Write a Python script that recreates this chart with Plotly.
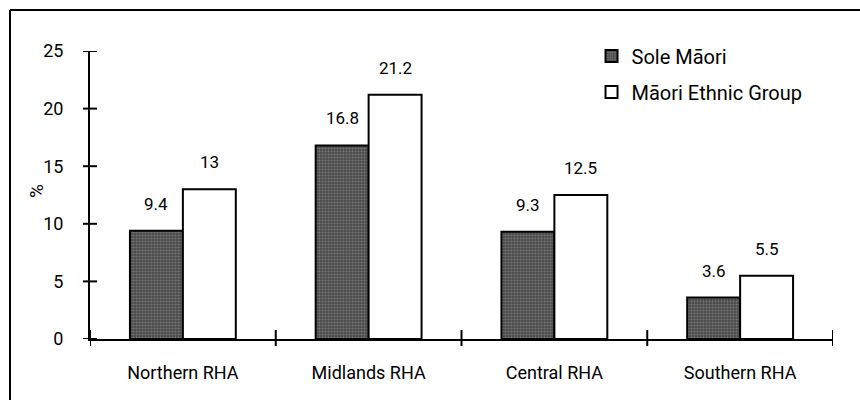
import plotly.graph_objects as go

categories = ["Northern RHA", "Midlands RHA", "Central RHA", "Southern RHA"]
sole_maori = [9.4, 16.8, 9.3, 3.6]
maori_ethnic = [13, 21.2, 12.5, 5.5]
series_names = ["Sole Māori", "Māori Ethnic Group"]
y_ticks = [0, 5, 10, 15, 20, 25]

FONT = "Roboto, Liberation Sans, sans-serif"
W, H = 860, 405
ML, MR, MT, MB = 90, 27, 51, 66
BARGAP = 0.43
plot_w = W - ML - MR
plot_h = H - MT - MB

fig = go.Figure()
fig.add_trace(go.Bar(
    x=categories, y=sole_maori, name=series_names[0], legendgroup="a",
    marker=dict(color="#5c5c5c", line=dict(color="black", width=2),
                pattern=dict(shape=".", fgcolor="#a8a8a8", bgcolor="#4a4a4a", size=3, solidity=0.35)),
))
fig.add_trace(go.Bar(
    x=categories, y=maori_ethnic, name=series_names[1], legendgroup="b",
    marker=dict(color="white", line=dict(color="black", width=2)),
))

cat_px = plot_w / len(categories)
off = (1 - BARGAP) / 4 * cat_px
for vals, sh in ((sole_maori, -off), (maori_ethnic, off)):
    for c, v in zip(categories, vals):
        fig.add_annotation(x=c, y=v, text=f"{v:g}", showarrow=False, xshift=sh,
                           yanchor="middle", yshift=27,
                           font=dict(family=FONT, size=17, color="black"))

shapes = []
# y-axis crossing ticks
for t in y_ticks:
    shapes.append(dict(type="line", xref="x domain", yref="y", x0=-7 / plot_w, x1=7 / plot_w,
                       y0=t, y1=t, line=dict(color="black", width=2)))
# x-axis boundary ticks
for i in range(len(categories) + 1):
    b = i - 0.5
    shapes.append(dict(type="line", xref="x", yref="y domain", x0=b, x1=b,
                       y0=-7 / plot_h, y1=9 / plot_h, line=dict(color="black", width=2)))
# frame lines (top and left)
fx = (10 - ML) / plot_w
fy_top = (H - MB - 10) / plot_h
fy_bot = (H - MB - 400) / plot_h
shapes.append(dict(type="line", xref="paper", yref="paper", x0=fx, x1=(W - ML) / plot_w,
                   y0=fy_top, y1=fy_top, line=dict(color="black", width=2)))
shapes.append(dict(type="line", xref="paper", yref="paper", x0=fx, x1=fx,
                   y0=fy_top, y1=fy_bot, line=dict(color="black", width=2)))

fig.add_annotation(text="%", xref="paper", yref="paper", x=(36 - ML) / plot_w,
                   y=(H - MB - 191) / plot_h, textangle=-90, showarrow=False,
                   xanchor="center", yanchor="middle",
                   font=dict(family=FONT, size=19, color="black"))

fig.update_layout(
    width=W, height=H,
    margin=dict(l=ML, r=MR, t=MT, b=MB),
    paper_bgcolor="white", plot_bgcolor="white",
    barmode="group", bargap=BARGAP, bargroupgap=0,
    font=dict(family=FONT, size=16, color="black"),
    shapes=shapes,
    showlegend=True,
    legend=dict(x=0.675, y=1.05, xanchor="left", yanchor="top",
                font=dict(family=FONT, size=20, color="black"),
                tracegroupgap=7, bgcolor="rgba(0,0,0,0)"),
    xaxis=dict(showline=True, linecolor="black", linewidth=2, ticks="", showgrid=False,
               range=[-0.5, 3.5], tickfont=dict(family=FONT, size=18), ticklabelstandoff=16),
    yaxis=dict(showline=True, linecolor="black", linewidth=2, ticks="", showgrid=False,
               range=[0, 25], tickvals=y_ticks, zeroline=False,
               tickfont=dict(family=FONT, size=18), ticklabelstandoff=21),
)

fig.write_html("out.html")
